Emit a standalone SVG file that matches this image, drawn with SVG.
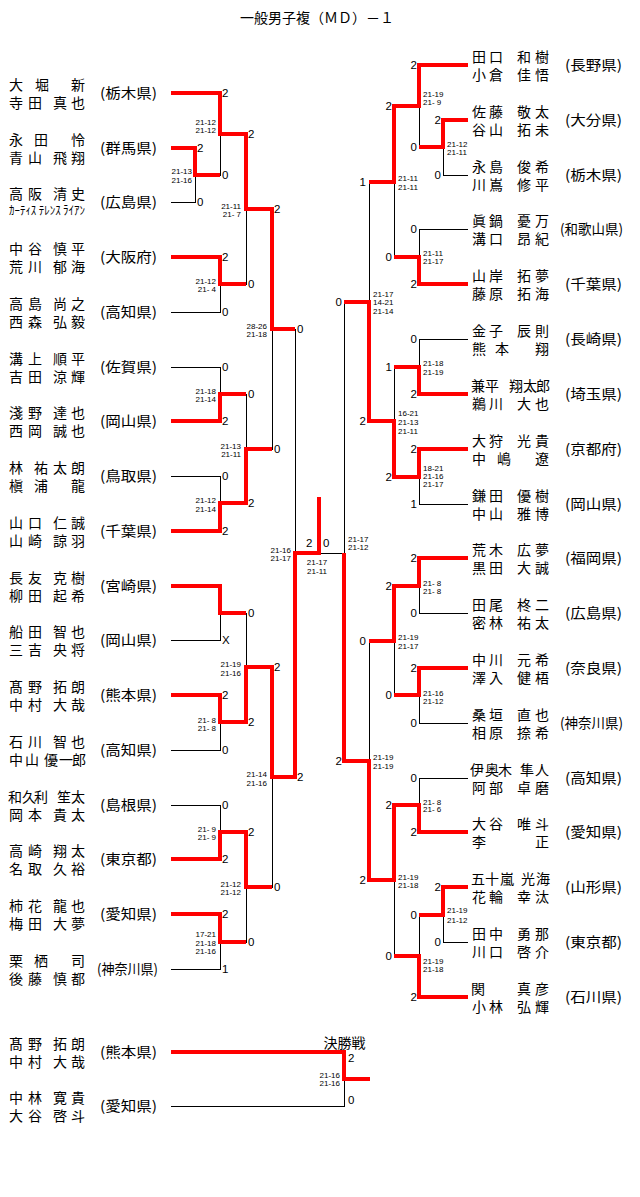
<svg xmlns="http://www.w3.org/2000/svg" width="640" height="1197" viewBox="0 0 640 1197" xml:space="preserve">
<style>
.bg{fill:#fff}
.t{font-family:"Noto Sans CJK JP","Noto Sans CJK SC",sans-serif;font-size:14px;fill:#000}
.nm{font-family:"Noto Sans CJK JP","Noto Sans CJK SC",sans-serif;font-size:14px;fill:#000;text-anchor:middle}
.kn{font-family:"Noto Sans CJK JP",sans-serif;font-size:12px;fill:#000}
.pf{font-family:"Noto Sans CJK JP","Noto Sans CJK SC",sans-serif;font-size:14px;fill:#000;text-anchor:middle}
.sc{font-family:"Liberation Sans",Arial,sans-serif;font-size:11.5px;fill:#000}
.scr{font-family:"Liberation Sans",Arial,sans-serif;font-size:11.5px;fill:#000;text-anchor:end}
.sm{font-family:"Liberation Sans",Arial,sans-serif;font-size:8px;fill:#000;text-anchor:end}
.smr{font-family:"Liberation Sans",Arial,sans-serif;font-size:8px;fill:#000}
.smc{font-family:"Liberation Sans",Arial,sans-serif;font-size:8px;fill:#000;text-anchor:middle}
.bk{stroke:#000;stroke-width:1;fill:none;shape-rendering:crispEdges}
.rd{stroke:#f00;stroke-width:4;fill:none;stroke-linejoin:miter}
</style>
<rect class="bg" x="0" y="0" width="640" height="1197"/>
<text class="t" x="317" y="23" text-anchor="middle">一般男子複（ＭＤ）－１</text>

<g id="connectors">
<path class="bk" d="M171 93.5H220.5 M171 148.5H195.5 M171 202.5H195.5 M171 257.5H220.5 M171 312.5H220.5 M171 367.5H220.5 M171 421.5H220.5 M171 476.5H220.5 M171 531.5H220.5 M171 586.5H220.5 M171 640.5H220.5 M171 695.5H220.5 M171 750.5H220.5 M171 805.5H220.5 M171 859.5H220.5 M171 914.5H220.5 M171 969.5H220.5
M195.5 148V203 M195 175.5H220
M220.5 93V176 M220 134.5H246 M220.5 257V313 M220 284.5H246 M220.5 367V422 M220 394.5H246 M220.5 476V532 M220 503.5H246
M220.5 586V641 M220 613.5H246 M220.5 695V751 M220 722.5H246 M220.5 805V860 M220 832.5H246 M220.5 914V970 M220 942.5H246
M246.5 134V285 M246 209.5H272 M246.5 394V504 M246 449.5H272 M246.5 613V723 M246 667.5H272 M246.5 832V943 M246 887.5H272
M272.5 209V450 M272 329.5H295 M272.5 667V888 M272 777.5H295
M295.5 329V778 M295 553.5H344 M344.5 302V762
M344 302.5H369 M344 761.5H369
M369.5 182V422 M369.5 641V881 M369 182.5H394 M369 421.5H394 M369 641.5H394 M369 880.5H394
M394.5 106V258 M394.5 367V478 M394.5 586V696 M394.5 805V957
M394 106.5H419 M394 257.5H419 M394 367.5H419 M394 477.5H419 M394 586.5H419 M394 695.5H419 M394 805.5H419 M394 956.5H419
M419.5 65V148 M419.5 229V285 M419.5 339V395 M419.5 449V505 M419.5 558V614 M419.5 668V724 M419.5 778V833 M419.5 915V998
M419 147.5H443 M419 915.5H443 M443.5 120V176 M443.5 887V943
M419 65.5H468 M443 120.5H468 M443 175.5H468 M419 229.5H468 M419 284.5H468 M419 339.5H468 M419 394.5H468 M419 449.5H468 M419 504.5H468 M419 558.5H468 M419 613.5H468 M419 668.5H468 M419 723.5H468 M419 778.5H468 M419 832.5H468 M443 887.5H468 M443 942.5H468 M419 997.5H468
M171 1106.5H344.5 M344.5 1079V1107"/>
<path class="rd" d="M171 93H220V134H246V209H272V329H295"/>
<path class="rd" d="M171 148H195V175H220"/>
<path class="rd" d="M171 257H220V284H246"/>
<path class="rd" d="M171 421H220V394H246"/>
<path class="rd" d="M171 531H220V503H246V449H272"/>
<path class="rd" d="M171 586H220V613H246"/>
<path class="rd" d="M171 695H220V722H246V667H272V777H295V553H319V497"/>
<path class="rd" d="M171 859H220V832H246V887H272"/>
<path class="rd" d="M171 914H220V942H246"/>
<path class="rd" d="M468 65H419V106H394V182H369"/>
<path class="rd" d="M468 120H443V147H419"/>
<path class="rd" d="M468 284H419V257H394"/>
<path class="rd" d="M468 394H419V367H394"/>
<path class="rd" d="M468 449H419V477H394V421H369V302H344"/>
<path class="rd" d="M468 558H419V586H394V641H369"/>
<path class="rd" d="M468 668H419V695H394"/>
<path class="rd" d="M468 832H419V805H394V880H369V761H344V553"/>
<path class="rd" d="M468 887H443V915H419"/>
<path class="rd" d="M468 997H419V956H394"/>
<path class="rd" d="M171 1052H344V1079H370"/>
</g>

<g id="L1"><text class="nm" x="16 42 78" y="90">大堀新</text><text class="nm" x="16 35 60 78" y="108">寺田真也</text><text class="pf" x="128.5" y="98" textLength="57" lengthAdjust="spacingAndGlyphs">(栃木県)</text></g>
<g id="L2"><text class="nm" x="16 41 78" y="145">永田怜</text><text class="nm" x="16 35 60 78" y="163">青山飛翔</text><text class="pf" x="128.5" y="153" textLength="57" lengthAdjust="spacingAndGlyphs">(群馬県)</text></g>
<g id="L3"><text class="nm" x="16 35 60 78" y="199">高阪清史</text><text class="kn" x="9" y="215" textLength="76" lengthAdjust="spacingAndGlyphs">ｶｰﾃｨｽ ﾃﾚﾝｽ ﾗｲｱﾝ</text><text class="pf" x="128.5" y="207" textLength="57" lengthAdjust="spacingAndGlyphs">(広島県)</text></g>
<g id="L4"><text class="nm" x="16 35 60 78" y="254">中谷慎平</text><text class="nm" x="16 35 60 78" y="272">荒川郁海</text><text class="pf" x="128.5" y="262" textLength="57" lengthAdjust="spacingAndGlyphs">(大阪府)</text></g>
<g id="L5"><text class="nm" x="16 35 60 78" y="309">高島尚之</text><text class="nm" x="16 35 60 78" y="327">西森弘毅</text><text class="pf" x="128.5" y="317" textLength="57" lengthAdjust="spacingAndGlyphs">(高知県)</text></g>
<g id="L6"><text class="nm" x="16 35 60 78" y="364">溝上順平</text><text class="nm" x="16 35 60 78" y="382">吉田涼輝</text><text class="pf" x="128.5" y="372" textLength="57" lengthAdjust="spacingAndGlyphs">(佐賀県)</text></g>
<g id="L7"><text class="nm" x="16 35 60 78" y="418">淺野達也</text><text class="nm" x="16 35 60 78" y="436">西岡誠也</text><text class="pf" x="128.5" y="426" textLength="57" lengthAdjust="spacingAndGlyphs">(岡山県)</text></g>
<g id="L8"><text class="nm" x="16 41 60 78" y="473">林祐太朗</text><text class="nm" x="16 41 78" y="491">槇浦龍</text><text class="pf" x="128.5" y="481" textLength="57" lengthAdjust="spacingAndGlyphs">(鳥取県)</text></g>
<g id="L9"><text class="nm" x="16 35 60 78" y="528">山口仁誠</text><text class="nm" x="16 35 60 78" y="546">山崎諒羽</text><text class="pf" x="128.5" y="536" textLength="57" lengthAdjust="spacingAndGlyphs">(千葉県)</text></g>
<g id="L10"><text class="nm" x="16 35 60 78" y="583">長友克樹</text><text class="nm" x="16 35 60 78" y="601">柳田起希</text><text class="pf" x="128.5" y="591" textLength="57" lengthAdjust="spacingAndGlyphs">(宮崎県)</text></g>
<g id="L11"><text class="nm" x="16 35 60 78" y="637">船田智也</text><text class="nm" x="16 35 60 78" y="655">三吉央将</text><text class="pf" x="128.5" y="645" textLength="57" lengthAdjust="spacingAndGlyphs">(岡山県)</text></g>
<g id="L12"><text class="nm" x="16 35 60 78" y="692">髙野拓朗</text><text class="nm" x="16 35 60 78" y="710">中村大哉</text><text class="pf" x="128.5" y="700" textLength="57" lengthAdjust="spacingAndGlyphs">(熊本県)</text></g>
<g id="L13"><text class="nm" x="16 35 60 78" y="747">石川智也</text><text class="nm" x="16 32 51 66 79" y="765">中山優一郎</text><text class="pf" x="128.5" y="755" textLength="57" lengthAdjust="spacingAndGlyphs">(高知県)</text></g>
<g id="L14"><text class="nm" x="15 29 41 64 78" y="802">和久利笙太</text><text class="nm" x="16 35 60 78" y="820">岡本貴太</text><text class="pf" x="128.5" y="810" textLength="57" lengthAdjust="spacingAndGlyphs">(島根県)</text></g>
<g id="L15"><text class="nm" x="16 35 60 78" y="856">高崎翔太</text><text class="nm" x="16 35 60 78" y="874">名取久裕</text><text class="pf" x="128.5" y="864" textLength="57" lengthAdjust="spacingAndGlyphs">(東京都)</text></g>
<g id="L16"><text class="nm" x="16 35 60 78" y="911">柿花龍也</text><text class="nm" x="16 35 60 78" y="929">梅田大夢</text><text class="pf" x="128.5" y="919" textLength="57" lengthAdjust="spacingAndGlyphs">(愛知県)</text></g>
<g id="L17"><text class="nm" x="16 41 78" y="966">栗栖司</text><text class="nm" x="16 35 60 78" y="984">後藤慎都</text><text class="pf" x="127.5" y="974" textLength="61" lengthAdjust="spacingAndGlyphs">(神奈川県)</text></g>

<g id="R1"><text class="nm" x="479 496 524 542" y="62">田口和樹</text><text class="nm" x="479 496 524 542" y="80">小倉佳悟</text><text class="pf" x="593.5" y="70" textLength="57" lengthAdjust="spacingAndGlyphs">(長野県)</text></g>
<g id="R2"><text class="nm" x="479 496 524 542" y="117">佐藤敬太</text><text class="nm" x="479 496 524 542" y="135">谷山拓未</text><text class="pf" x="593.5" y="125" textLength="57" lengthAdjust="spacingAndGlyphs">(大分県)</text></g>
<g id="R3"><text class="nm" x="479 496 524 542" y="172">永島俊希</text><text class="nm" x="479 496 524 542" y="190">川嶌修平</text><text class="pf" x="593.5" y="180" textLength="57" lengthAdjust="spacingAndGlyphs">(栃木県)</text></g>
<g id="R4"><text class="nm" x="479 496 524 542" y="226">眞鍋憂万</text><text class="nm" x="479 496 524 542" y="244">溝口昂紀</text><text class="pf" x="591.5" y="234" textLength="63" lengthAdjust="spacingAndGlyphs">(和歌山県)</text></g>
<g id="R5"><text class="nm" x="479 496 524 542" y="281">山岸拓夢</text><text class="nm" x="479 496 524 542" y="299">藤原拓海</text><text class="pf" x="593.5" y="289" textLength="57" lengthAdjust="spacingAndGlyphs">(千葉県)</text></g>
<g id="R6"><text class="nm" x="479 496 524 542" y="336">金子辰則</text><text class="nm" x="479 502 542" y="354">熊本翔</text><text class="pf" x="593.5" y="344" textLength="57" lengthAdjust="spacingAndGlyphs">(長崎県)</text></g>
<g id="R7"><text class="nm" x="478 492 516 530 543" y="391">兼平翔太郎</text><text class="nm" x="479 496 524 542" y="409">鵜川大也</text><text class="pf" x="593.5" y="399" textLength="57" lengthAdjust="spacingAndGlyphs">(埼玉県)</text></g>
<g id="R8"><text class="nm" x="479 496 524 542" y="446">大狩光貴</text><text class="nm" x="479 504 542" y="464">中嶋遼</text><text class="pf" x="593.5" y="454" textLength="57" lengthAdjust="spacingAndGlyphs">(京都府)</text></g>
<g id="R9"><text class="nm" x="479 496 524 542" y="501">鎌田優樹</text><text class="nm" x="479 496 524 542" y="519">中山雅博</text><text class="pf" x="593.5" y="509" textLength="57" lengthAdjust="spacingAndGlyphs">(岡山県)</text></g>
<g id="R10"><text class="nm" x="479 496 524 542" y="555">荒木広夢</text><text class="nm" x="479 496 524 542" y="573">黒田大誠</text><text class="pf" x="593.5" y="563" textLength="57" lengthAdjust="spacingAndGlyphs">(福岡県)</text></g>
<g id="R11"><text class="nm" x="479 496 524 542" y="610">田尾柊二</text><text class="nm" x="479 496 524 542" y="628">密林祐太</text><text class="pf" x="593.5" y="618" textLength="57" lengthAdjust="spacingAndGlyphs">(広島県)</text></g>
<g id="R12"><text class="nm" x="479 496 524 542" y="665">中川元希</text><text class="nm" x="479 496 524 542" y="683">澤入健梧</text><text class="pf" x="593.5" y="673" textLength="57" lengthAdjust="spacingAndGlyphs">(奈良県)</text></g>
<g id="R13"><text class="nm" x="479 496 524 542" y="720">桑垣直也</text><text class="nm" x="479 496 524 542" y="738">相原捺希</text><text class="pf" x="591.5" y="728" textLength="63" lengthAdjust="spacingAndGlyphs">(神奈川県)</text></g>
<g id="R14"><text class="nm" x="477 492 505 527 542" y="775">伊奥木隼人</text><text class="nm" x="479 496 524 542" y="793">阿部卓磨</text><text class="pf" x="593.5" y="783" textLength="57" lengthAdjust="spacingAndGlyphs">(高知県)</text></g>
<g id="R15"><text class="nm" x="479 496 524 542" y="829">大谷唯斗</text><text class="nm" x="479 542" y="847">李正</text><text class="pf" x="593.5" y="837" textLength="57" lengthAdjust="spacingAndGlyphs">(愛知県)</text></g>
<g id="R16"><text class="nm" x="478 492 507 528 543" y="884">五十嵐光海</text><text class="nm" x="479 496 524 542" y="902">花輪幸汰</text><text class="pf" x="593.5" y="892" textLength="57" lengthAdjust="spacingAndGlyphs">(山形県)</text></g>
<g id="R17"><text class="nm" x="479 496 524 542" y="939">田中勇那</text><text class="nm" x="479 496 524 542" y="957">川口啓介</text><text class="pf" x="593.5" y="947" textLength="57" lengthAdjust="spacingAndGlyphs">(東京都)</text></g>
<g id="R18"><text class="nm" x="478 524 542" y="994">関真彦</text><text class="nm" x="479 496 524 542" y="1012">小林弘輝</text><text class="pf" x="593.5" y="1002" textLength="57" lengthAdjust="spacingAndGlyphs">(石川県)</text></g>

<g id="F1"><text class="nm" x="16 35 60 78" y="1049">髙野拓朗</text><text class="nm" x="16 35 60 78" y="1067">中村大哉</text><text class="pf" x="128.5" y="1057" textLength="57" lengthAdjust="spacingAndGlyphs">(熊本県)</text></g>
<g id="F2"><text class="nm" x="16 35 60 78" y="1103">中林寛貴</text><text class="nm" x="16 35 60 78" y="1121">大谷啓斗</text><text class="pf" x="128.5" y="1111" textLength="57" lengthAdjust="spacingAndGlyphs">(愛知県)</text></g>
<g id="F-title"><text class="t" x="344.5" y="1048" text-anchor="middle" font-size="15">決勝戦</text></g>

<g id="scores">
<text class="sc" x="197" y="152">2</text><text class="sc" x="197" y="206">0</text>
<text class="sc" x="222" y="97">2</text><text class="sc" x="222" y="179">0</text>
<text class="sc" x="222" y="261">2</text><text class="sc" x="222" y="316">0</text>
<text class="sc" x="222" y="371">0</text><text class="sc" x="222" y="425">2</text>
<text class="sc" x="222" y="480">0</text><text class="sc" x="222" y="535">2</text>
<text class="sc" x="222" y="644">X</text>
<text class="sc" x="222" y="699">2</text><text class="sc" x="222" y="754">0</text>
<text class="sc" x="222" y="809">0</text><text class="sc" x="222" y="863">2</text>
<text class="sc" x="222" y="918">2</text><text class="sc" x="222" y="973">1</text>
<text class="sc" x="248" y="138">2</text><text class="sc" x="248" y="288">0</text>
<text class="sc" x="248" y="398">0</text><text class="sc" x="248" y="507">2</text>
<text class="sc" x="248" y="617">0</text><text class="sc" x="248" y="726">2</text>
<text class="sc" x="248" y="836">2</text><text class="sc" x="248" y="946">0</text>
<text class="sc" x="274" y="213">2</text><text class="sc" x="274" y="453">0</text>
<text class="sc" x="274" y="671">2</text><text class="sc" x="274" y="891">0</text>
<text class="sc" x="297" y="333">0</text><text class="sc" x="297" y="781">2</text>
<text class="sc" x="306" y="547" font-size="12">2</text><text class="sc" x="323" y="547" font-size="12">0</text>

<text class="scr" x="441" y="124">2</text><text class="scr" x="441" y="179">0</text>
<text class="scr" x="441" y="891">2</text><text class="scr" x="441" y="946">0</text>
<text class="scr" x="417" y="69">2</text><text class="scr" x="417" y="151">0</text>
<text class="scr" x="417" y="233">0</text><text class="scr" x="417" y="288">2</text>
<text class="scr" x="417" y="343">0</text><text class="scr" x="417" y="398">2</text>
<text class="scr" x="417" y="453">2</text><text class="scr" x="417" y="508">1</text>
<text class="scr" x="417" y="562">2</text><text class="scr" x="417" y="617">0</text>
<text class="scr" x="417" y="672">2</text><text class="scr" x="417" y="727">0</text>
<text class="scr" x="417" y="782">0</text><text class="scr" x="417" y="836">2</text>
<text class="scr" x="417" y="919">0</text><text class="scr" x="417" y="1001">2</text>
<text class="scr" x="392" y="110">2</text><text class="scr" x="392" y="261">0</text>
<text class="scr" x="392" y="371">1</text><text class="scr" x="392" y="481">2</text>
<text class="scr" x="392" y="590">2</text><text class="scr" x="392" y="699">0</text>
<text class="scr" x="392" y="809">2</text><text class="scr" x="392" y="960">0</text>
<text class="scr" x="366" y="186">1</text><text class="scr" x="366" y="425">2</text>
<text class="scr" x="366" y="645">0</text><text class="scr" x="366" y="884">2</text>
<text class="scr" x="342" y="306">0</text><text class="scr" x="342" y="765">2</text>
<text class="sc" x="348" y="1062">2</text><text class="sc" x="348" y="1104">0</text>
</g>

<g id="match-scores">
<text class="sm" x="192" y="174">21-13</text><text class="sm" x="192" y="183">21-16</text>
<text class="sm" x="216" y="125">21-12</text><text class="sm" x="216" y="133">21-12</text>
<text class="sm" x="216" y="284">21-12</text><text class="sm" x="216" y="292">21- 4</text>
<text class="sm" x="216" y="394">21-18</text><text class="sm" x="216" y="402">21-14</text>
<text class="sm" x="216" y="503">21-12</text><text class="sm" x="216" y="512">21-14</text>
<text class="sm" x="216" y="723">21- 8</text><text class="sm" x="216" y="731">21- 8</text>
<text class="sm" x="216" y="832">21- 9</text><text class="sm" x="216" y="840">21- 9</text>
<text class="sm" x="216" y="937">17-21</text><text class="sm" x="216" y="946">21-18</text><text class="sm" x="216" y="954">21-16</text>
<text class="sm" x="241" y="209">21-11</text><text class="sm" x="241" y="217">21- 7</text>
<text class="sm" x="241" y="449">21-13</text><text class="sm" x="241" y="457">21-11</text>
<text class="sm" x="241" y="667">21-19</text><text class="sm" x="241" y="676">21-16</text>
<text class="sm" x="241" y="887">21-12</text><text class="sm" x="241" y="895">21-12</text>
<text class="sm" x="267" y="329">28-26</text><text class="sm" x="267" y="337">21-18</text>
<text class="sm" x="267" y="777">21-14</text><text class="sm" x="267" y="786">21-16</text>
<text class="sm" x="291" y="553">21-16</text><text class="sm" x="291" y="561">21-17</text>
<text class="smc" x="317" y="565">21-17</text><text class="smc" x="317" y="574">21-11</text>
<text class="smr" x="348" y="542">21-17</text><text class="smr" x="348" y="550">21-12</text>
<text class="smr" x="373" y="297">21-17</text><text class="smr" x="373" y="305">14-21</text><text class="smr" x="373" y="314">21-14</text>
<text class="smr" x="373" y="760">21-19</text><text class="smr" x="373" y="769">21-19</text>
<text class="smr" x="398" y="181">21-11</text><text class="smr" x="398" y="190">21-11</text>
<text class="smr" x="398" y="416">16-21</text><text class="smr" x="398" y="425">21-13</text><text class="smr" x="398" y="434">21-11</text>
<text class="smr" x="398" y="640">21-19</text><text class="smr" x="398" y="649">21-17</text>
<text class="smr" x="398" y="880">21-19</text><text class="smr" x="398" y="888">21-18</text>
<text class="smr" x="423" y="97">21-19</text><text class="smr" x="423" y="105">21- 9</text>
<text class="smr" x="423" y="256">21-11</text><text class="smr" x="423" y="264">21-17</text>
<text class="smr" x="423" y="366">21-18</text><text class="smr" x="423" y="375">21-19</text>
<text class="smr" x="423" y="471">18-21</text><text class="smr" x="423" y="479">21-16</text><text class="smr" x="423" y="487">21-17</text>
<text class="smr" x="423" y="586">21- 8</text><text class="smr" x="423" y="594">21- 8</text>
<text class="smr" x="423" y="696">21-16</text><text class="smr" x="423" y="704">21-12</text>
<text class="smr" x="423" y="805">21- 8</text><text class="smr" x="423" y="812">21- 6</text>
<text class="smr" x="423" y="964">21-19</text><text class="smr" x="423" y="972">21-18</text>
<text class="smr" x="447" y="147">21-12</text><text class="smr" x="447" y="155">21-11</text>
<text class="smr" x="447" y="913">21-19</text><text class="smr" x="447" y="923">21-12</text>
<text class="sm" x="340" y="1078">21-16</text><text class="sm" x="340" y="1086">21-16</text>
</g>
</svg>
